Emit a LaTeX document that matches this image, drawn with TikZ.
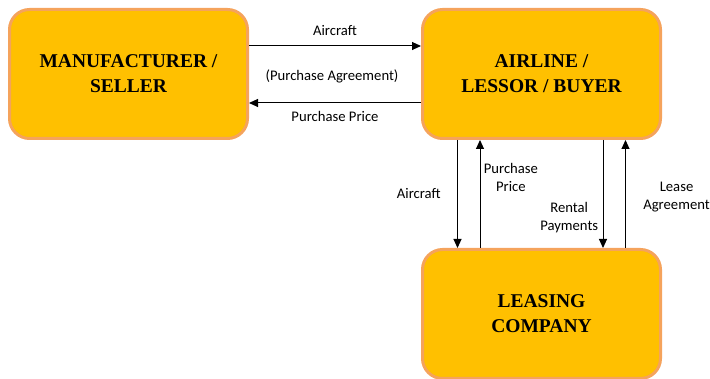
\documentclass[tikz,border=0pt]{standalone}
\usepackage{fontspec}
\setmainfont{Liberation Serif}
\newfontfamily\boxfont{Liberation Serif}
\newfontfamily\labelfont{Carlito}
\usetikzlibrary{arrows.meta,positioning}
\definecolor{boxfill}{HTML}{FFC000}
\definecolor{boxline}{HTML}{F5A35C}

\begin{document}
\begin{tikzpicture}[->,>={Triangle[length=9pt,width=8pt]},x=1pt,y=1pt,line width=1pt,
    font=\labelfont\fontsize{14.67}{18}\selectfont]
  \tikzstyle{party}=[rectangle,rounded corners=20pt,fill=boxfill,draw=boxline,line width=3pt,
    minimum width=238pt,minimum height=129pt,align=center,text=black,
    font=\boxfont\bfseries\fontsize{19.5}{25}\selectfont]
  \useasboundingbox (0,0) rectangle (710,-379);

  \node[party] (mfr)   at (128.5,-74)         {MANUFACTURER /\\SELLER};
  \node[party] (air)   [right=172pt of mfr]  {AIRLINE /\\LESSOR / BUYER};
  \node[party] (lease) [below=108pt of air]  {LEASING\\COMPANY};
  \node (agree) at (332,-76) {(Purchase Agreement)};

  \path
  ([yshift=28pt]mfr.east) edge node[above=7pt] {Aircraft} ([yshift=28pt]air.west)
  ([yshift=-29pt]air.west) edge node[below=4pt] {Purchase Price} ([yshift=-29pt]mfr.east)
  ([xshift=-84pt]air.south) edge node[left=13pt] {Aircraft} ([xshift=-84pt]lease.north)
  ([xshift=-61.5pt]lease.north) edge node[right,pos=0.65,align=center] {Purchase\\Price} ([xshift=-61.5pt]air.south)
  ([xshift=61.5pt]air.south) edge node[left=1pt,pos=0.72,align=center] {Rental\\Payments} ([xshift=61.5pt]lease.north)
  ([xshift=84pt]lease.north) edge node[right=14pt,pos=0.47,align=center] {Lease\\Agreement} ([xshift=84pt]air.south);
\end{tikzpicture}
\end{document}
